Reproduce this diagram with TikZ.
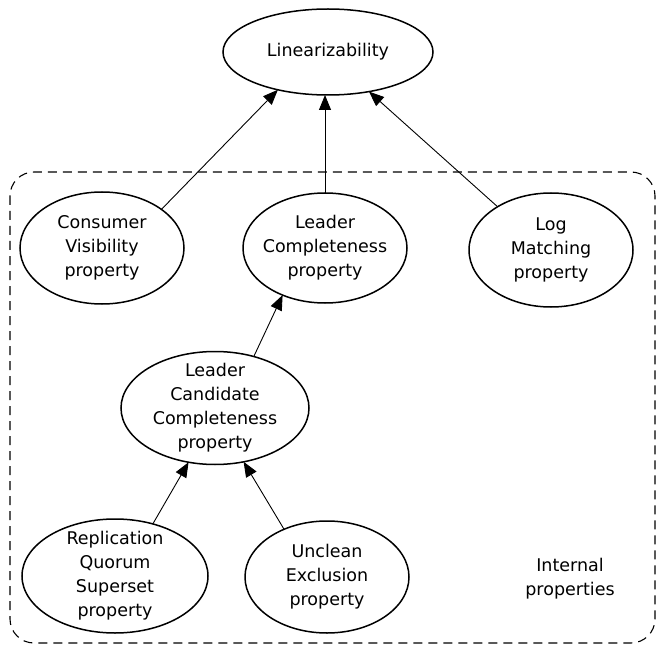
\documentclass[tikz,border=0pt]{standalone}
\usepackage{fontspec}
\setmainfont{DejaVu Sans}
\usetikzlibrary{shapes.geometric,arrows.meta}
\tikzset{
  prop/.style={draw, ellipse, line width=1.5pt, inner sep=0pt, outer sep=0pt},
  txt/.style={align=center, inner sep=0pt, font=\fontsize{17.5}{24}\selectfont},
  conn/.style={line width=0.9pt, -{Triangle[length=15pt,width=12pt]}},
  group/.style={draw, dash pattern=on 9pt off 6pt, line width=1.1pt, rounded corners=24pt}
}
\begin{document}
\begin{tikzpicture}[x=1pt,y=-1pt]
\useasboundingbox (0,0) rectangle (664,655);
\draw[group] (10,172) rectangle (655,643);
\node[prop, minimum width=210pt, minimum height=86pt, label={[txt]center:Linearizability}] (lin) at (328,52) {};
\node[prop, minimum width=164pt, minimum height=112pt, label={[txt]center:Consumer\\Visibility\\property}] (cons) at (102,248) {};
\node[prop, minimum width=164pt, minimum height=110pt, label={[txt]center:Leader\\Completeness\\property}] (lc) at (325,248) {};
\node[prop, minimum width=164pt, minimum height=114pt, label={[txt]center:Log\\Matching\\property}] (log) at (551,250) {};
\node[prop, minimum width=188pt, minimum height=113pt, label={[txt]center:Leader\\Candidate\\Completeness\\property}] (cand) at (215,408) {};
\node[prop, minimum width=186pt, minimum height=114pt, label={[txt]center:Replication\\Quorum\\Superset\\property}] (rep) at (115,576) {};
\node[prop, minimum width=164pt, minimum height=112pt, label={[txt]center:Unclean\\Exclusion\\property}] (uncl) at (327,577) {};
\node[txt] (intl) at (570,579) {Internal\\properties};
\draw[conn] (cons.33) -- (lin.217);
\draw[conn] (lc.north) -- (lc.north |- lin.south);
\draw[conn] (log.141) -- (lin.316);
\draw[conn] (cand.53) -- (lc.228);
\draw[conn] (rep.54) -- (cand.244);
\draw[conn] (uncl.132) -- (cand.298);
\end{tikzpicture}
\end{document}
